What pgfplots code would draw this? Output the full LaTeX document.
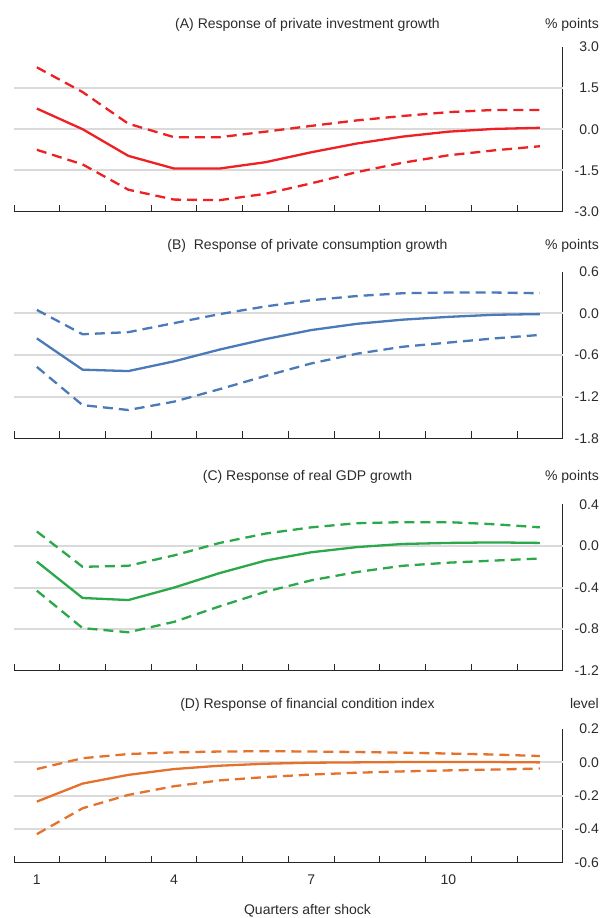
\documentclass[border=0pt]{standalone}
\usepackage{fontspec}
\setmainfont{Liberation Sans}
\usepackage{pgfplots}
\usepackage{pgfplotstable}
\pgfplotsset{compat=1.18}
\definecolor{cA}{HTML}{EE2024}
\definecolor{cB}{HTML}{4A7AB8}
\definecolor{cC}{HTML}{2BA84A}
\definecolor{cD}{HTML}{E4712C}
\definecolor{tc}{HTML}{2B2B2B}
\definecolor{gridc}{HTML}{DADADA}

\pgfplotstableread{
q mid up lo
1 0.75 2.25 -0.75
2 0.00 1.35 -1.28
3 -0.97 0.20 -2.20
4 -1.43 -0.29 -2.56
5 -1.43 -0.29 -2.58
6 -1.20 -0.09 -2.35
7 -0.84 0.12 -1.97
8 -0.52 0.32 -1.56
9 -0.27 0.48 -1.22
10 -0.09 0.62 -0.95
11 0.01 0.70 -0.77
12 0.05 0.70 -0.62
}\tabA

\pgfplotstableread{
q mid up lo
1 -0.36 0.05 -0.77
2 -0.81 -0.30 -1.32
3 -0.83 -0.27 -1.39
4 -0.69 -0.14 -1.27
5 -0.52 -0.01 -1.09
6 -0.37 0.10 -0.90
7 -0.24 0.19 -0.72
8 -0.15 0.25 -0.58
9 -0.09 0.29 -0.48
10 -0.05 0.30 -0.42
11 -0.02 0.30 -0.36
12 -0.01 0.29 -0.31
}\tabB

\pgfplotstableread{
q mid up lo
1 -0.15 0.14 -0.43
2 -0.50 -0.20 -0.79
3 -0.52 -0.19 -0.83
4 -0.40 -0.09 -0.73
5 -0.26 0.03 -0.58
6 -0.14 0.12 -0.44
7 -0.06 0.18 -0.33
8 -0.01 0.22 -0.25
9 0.02 0.23 -0.19
10 0.03 0.23 -0.16
11 0.035 0.21 -0.14
12 0.03 0.18 -0.12
}\tabC

\pgfplotstableread{
q mid up lo
1 -0.235 -0.04 -0.43
2 -0.127 0.025 -0.275
3 -0.075 0.05 -0.195
4 -0.04 0.06 -0.143
5 -0.02 0.065 -0.108
6 -0.008 0.067 -0.088
7 -0.002 0.065 -0.073
8 0.0 0.062 -0.062
9 0.002 0.058 -0.054
10 0.002 0.053 -0.048
11 0.002 0.047 -0.043
12 0.0 0.038 -0.037
}\tabD

\pgfplotsset{
  irf/.style={
    scale only axis,
    width=548.7pt,
    xmin=0.5, xmax=12.5,
    axis x line*=bottom,
    axis y line*=right,
    axis line style={-, draw=black!85, line width=0.9pt},
    xtick={1,4,7,10},
    xticklabels={},
    minor xtick={0.5,1.5,...,11.5},
    minor x tick style={draw=black!85, line width=0.9pt},
    minor tick length=7pt,
    major tick length=0pt,
    tick align=inside,
    yticklabel style={anchor=east, inner sep=0pt, xshift=36.3pt},
    every tick label/.append style={text=tc},
    font=\fontsize{14}{17}\selectfont,
    extra y tick labels={},
    extra y tick style={grid=major},
    major grid style={draw=gridc, line width=2pt},
    clip=false,
  },
  midl/.style={line width=2.3pt, line join=round, solid},
  band/.style={line width=2.3pt, line join=round, dash pattern=on 10pt off 6pt},
}

\begin{document}
\begin{tikzpicture}[x=1pt,y=1pt]
\path[use as bounding box] (0,0) rectangle (601,918);

% Panel A
\begin{axis}[irf, height=165pt, at={(14pt,706.3pt)}, anchor=south west,
  ymin=-3, ymax=3, ytick={-3,-1.5,0,1.5,3},
  yticklabels={-3.0,-1.5,0.0,1.5,3.0},
  extra y ticks={-1.5,0,1.5}]
  \addplot[band, cA] table[x=q, y=up] {\tabA};
  \addplot[band, cA] table[x=q, y=lo] {\tabA};
  \addplot[midl, cA] table[x=q, y=mid] {\tabA};
\end{axis}

% Panel B
\begin{axis}[irf, height=166.8pt, at={(14pt,479.5pt)}, anchor=south west,
  ymin=-1.8, ymax=0.6, ytick={-1.8,-1.2,-0.6,0,0.6},
  yticklabels={-1.8,-1.2,-0.6,0.0,0.6},
  extra y ticks={-1.2,-0.6,0}]
  \addplot[band, cB] table[x=q, y=up] {\tabB};
  \addplot[band, cB] table[x=q, y=lo] {\tabB};
  \addplot[midl, cB] table[x=q, y=mid] {\tabB};
\end{axis}

% Panel C
\begin{axis}[irf, height=166.2pt, at={(14pt,247.3pt)}, anchor=south west,
  ymin=-1.2, ymax=0.4, ytick={-1.2,-0.8,-0.4,0,0.4},
  yticklabels={-1.2,-0.8,-0.4,0.0,0.4},
  extra y ticks={-0.8,-0.4,0}]
  \addplot[band, cC] table[x=q, y=up] {\tabC};
  \addplot[band, cC] table[x=q, y=lo] {\tabC};
  \addplot[midl, cC] table[x=q, y=mid] {\tabC};
\end{axis}

% Panel D
\begin{axis}[irf, height=133.5pt, at={(14pt,55.5pt)}, anchor=south west,
  ymin=-0.6, ymax=0.2, ytick={-0.6,-0.4,-0.2,0,0.2},
  yticklabels={-0.6,-0.4,-0.2,0.0,0.2},
  extra y ticks={-0.4,-0.2,0},
  xticklabels={1,4,7,10},
  xticklabel style={anchor=north, inner sep=0pt, yshift=-12.5pt}]
  \addplot[band, cD] table[x=q, y=up] {\tabD};
  \addplot[band, cD] table[x=q, y=lo] {\tabD};
  \addplot[midl, cD] table[x=q, y=mid] {\tabD};
\end{axis}

\begin{scope}[every node/.style={font=\fontsize{14}{17}\selectfont, text=tc, inner sep=0pt}]
\node[anchor=base] at (307.5,889.7) {(A) Response of private investment growth};
\node[anchor=base east] at (599,889.7) {\% points};
\node[anchor=base] at (307.5,668) {(B)\ \ Response of private consumption growth};
\node[anchor=base east] at (599,668) {\% points};
\node[anchor=base] at (307.5,437) {(C) Response of real GDP growth};
\node[anchor=base east] at (599,437) {\% points};
\node[anchor=base] at (307.5,209) {(D) Response of financial condition index};
\node[anchor=base east] at (599,209) {level};
\node[anchor=base] at (307.5,3) {Quarters after shock};
\end{scope}
\end{tikzpicture}
\end{document}
